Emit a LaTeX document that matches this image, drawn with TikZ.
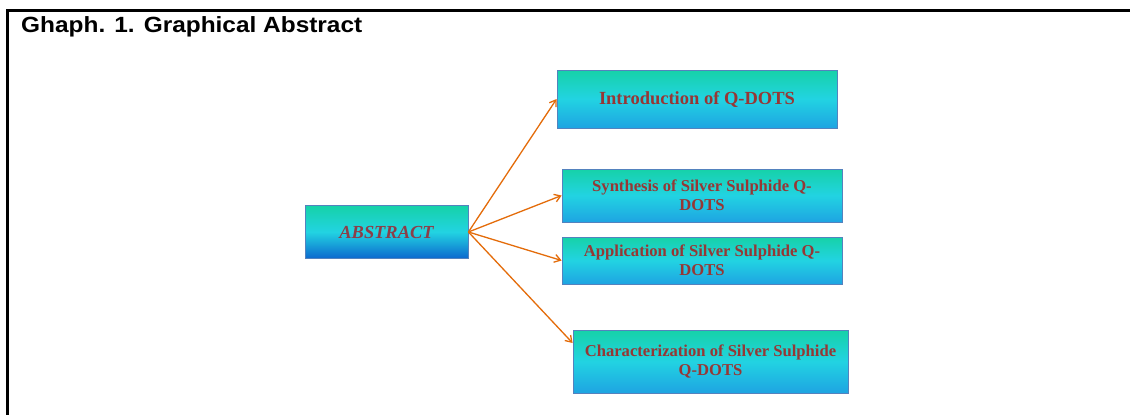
\documentclass[tikz,border=0pt]{standalone}
\usepackage{fontspec}
\setmainfont{Liberation Serif}
\newfontfamily\titlefont{Liberation Sans}
\usetikzlibrary{arrows.meta,calc}
\definecolor{qgreen}{RGB}{22,210,168}
\definecolor{qcyan}{RGB}{34,211,226}
\definecolor{qblue}{RGB}{30,164,226}
\definecolor{qdeep}{RGB}{12,104,206}
\definecolor{qborder}{RGB}{84,130,190}
\definecolor{qtext}{RGB}{150,55,53}
\definecolor{qabs}{RGB}{140,62,72}
\definecolor{qarrow}{RGB}{228,108,10}
\pgfdeclareverticalshading{qshade}{100bp}{color(0bp)=(qblue); color(25bp)=(qblue); color(50bp)=(qcyan); color(75bp)=(qgreen); color(100bp)=(qgreen)}
\pgfdeclareverticalshading{qshadeabs}{100bp}{color(0bp)=(qdeep); color(25bp)=(qdeep); color(50bp)=(qcyan); color(75bp)=(qgreen); color(100bp)=(qgreen)}
\tikzset{
  topicbox/.style={draw=qborder, line width=0.8pt, shade, shading=qshade, align=center,
    inner sep=2pt, text=qtext, font=\bfseries\fontsize{16.6}{19}\selectfont},
  absbox/.style={topicbox, shading=qshadeabs, font=\bfseries\itshape\fontsize{18.4}{21}\selectfont, text=qabs},
  link/.style={draw=qarrow, line width=1.3pt, -{Straight Barb[length=6pt,width=8pt]}},
  frameline/.style={line width=2.6pt, black}
}
\begin{document}
\begin{tikzpicture}[x=1pt,y=-1pt]
\useasboundingbox (0,0) rectangle (1130,415);
\fill[white] (0,0) rectangle (1130,415);
\draw[frameline] (7.5,420) -- (7.5,10.5) -- (1135,10.5);
\node[anchor=base west, inner sep=0pt, font=\titlefont\bfseries\fontsize{22}{26}\selectfont] (title) at (21,32) {\scalebox{1.11}[1]{Ghaph. 1. Graphical Abstract}};
\node[absbox, minimum width=163pt, minimum height=53pt] (abs) at (386.5,232) {ABSTRACT};
\node[topicbox, font=\bfseries\fontsize{18.5}{21}\selectfont, minimum width=280pt, minimum height=58pt] (intro) at (697,99) {Introduction of Q-DOTS};
\node[topicbox, minimum width=280pt, minimum height=53pt] (syn) at (702,195.5) {Synthesis of Silver Sulphide Q-\\DOTS};
\node[topicbox, minimum width=280pt, minimum height=47pt] (app) at (702,260.5) {Application of Silver Sulphide Q-\\DOTS};
\node[topicbox, minimum width=275pt, minimum height=63pt] (char) at (710.5,361.5) {Characterization of Silver Sulphide\\Q-DOTS};
\coordinate (charin) at ($(char.north west)!0.21!(char.south west)$);
\draw[link] (abs.east) -- (intro.west);
\draw[link] (abs.east) -- (syn.west);
\draw[link] (abs.east) -- (app.west);
\draw[link] (abs.east) -- (charin);
\end{tikzpicture}
\end{document}
